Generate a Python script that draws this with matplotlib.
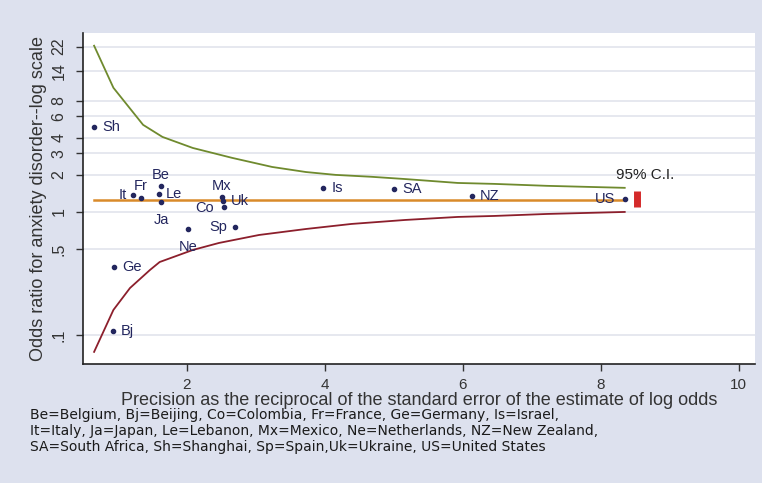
import matplotlib
matplotlib.use("Agg")
import matplotlib.pyplot as plt

plt.rcParams['font.family'] = ['Liberation Sans', 'DejaVu Sans']

# countries: code, precision (1/se), odds ratio
codes = ['Sh', 'It', 'Fr', 'Be', 'Le', 'Ja', 'Ne', 'Mx', 'Uk', 'Co', 'Sp',
         'Is', 'SA', 'NZ', 'US', 'Ge', 'Bj']
precision = [0.66, 1.22, 1.34, 1.63, 1.60, 1.63, 2.02, 2.51, 2.53, 2.54, 2.70,
             3.98, 5.01, 6.14, 8.35, 0.95, 0.93]
odds_ratio = [4.91, 1.37, 1.30, 1.63, 1.40, 1.21, 0.73, 1.32, 1.23, 1.10, 0.755,
              1.57, 1.54, 1.35, 1.28, 0.357, 0.108]

# funnel limits
upper_x = [0.66, 0.94, 1.37, 1.65, 2.09, 2.66, 3.24, 3.73, 4.16, 4.68, 5.17,
           5.93, 6.46, 7.22, 8.35]
upper_y = [22.4, 10.2, 5.1, 4.07, 3.31, 2.75, 2.32, 2.11, 2.0, 1.93, 1.85,
           1.72, 1.69, 1.63, 1.57]
lower_x = [0.66, 0.94, 1.18, 1.47, 1.61, 2.09, 2.47, 3.05, 3.73, 4.39, 5.17,
           5.93, 6.46, 7.22, 8.35]
lower_y = [0.073, 0.160, 0.241, 0.338, 0.392, 0.491, 0.560, 0.650, 0.727, 0.799,
           0.861, 0.911, 0.928, 0.963, 1.0]

pooled_or = 1.25
pooled_ci = [1.10, 1.48]
ci_x = 8.53

y_ticks = [0.1, 0.5, 1, 2, 3, 4, 6, 8, 14, 22]
y_labels = ['.1', '.5', '1', '2', '3', '4', '6', '8', '14', '22']
x_ticks = [2, 4, 6, 8, 10]

# label offsets in pixels (dx, dy, ha)
offsets = {
    'Sh': (8, 0, 'left'), 'It': (-6, 0, 'right'), 'Fr': (0, 12, 'center'),
    'Be': (0, 11, 'center'), 'Le': (7, 0, 'left'), 'Ja': (0, -18, 'center'),
    'Ne': (0, -18, 'center'), 'Mx': (0, 11, 'center'), 'Uk': (8, 0, 'left'),
    'Co': (-10, -1, 'right'), 'Sp': (-8, 0, 'right'), 'Is': (8, 0, 'left'),
    'SA': (8, 0, 'left'), 'NZ': (8, 0, 'left'), 'US': (-9, 0, 'right'),
    'Ge': (8, 0, 'left'), 'Bj': (8, 0, 'left'),
}

note_lines = [
    'Be=Belgium, Bj=Beijing, Co=Colombia, Fr=France, Ge=Germany, Is=Israel,',
    'It=Italy, Ja=Japan, Le=Lebanon, Mx=Mexico, Ne=Netherlands, NZ=New Zealand,',
    'SA=South Africa, Sh=Shanghai, Sp=Spain,Uk=Ukraine, US=United States',
]

bg = '#dde1ee'
navy = '#23265e'

fig = plt.figure(figsize=(7.62, 4.83), dpi=100, facecolor=bg)
ax = fig.add_axes([0.109, 0.246, 0.882, 0.686])
ax.set_facecolor('white')
ax.set_yscale('log')
ax.set_xlim(0.5, 10.24)
ax.set_ylim(0.058, 28.5)

for t in y_ticks:
    ax.axhline(t, color='#e2e4ec', lw=1.2, zorder=0)

ax.plot(upper_x, upper_y, color='#6f8a2e', lw=1.3, zorder=2)
ax.plot(lower_x, lower_y, color='#8c1f2c', lw=1.3, zorder=2)
ax.plot([min(precision), max(precision)], [pooled_or, pooled_or],
        color='#d98a2a', lw=1.8, zorder=2)
ax.plot([ci_x, ci_x], pooled_ci, color='#d42a2a', lw=5, solid_capstyle='butt', zorder=3)
ax.text(8.22, 2.0, '95% C.I.', fontsize=11, color='#222222', va='center', ha='left')

ax.plot(precision, odds_ratio, 'o', color=navy, ms=3, zorder=4)
for c, px, oy in zip(codes, precision, odds_ratio):
    dx, dy, ha = offsets[c]
    ax.annotate(c, (px, oy), xytext=(dx, dy), textcoords='offset pixels',
                ha=ha, va='center', fontsize=10.5, color=navy)

ax.set_yticks(y_ticks)
ax.set_yticklabels(y_labels, rotation=90, va='center')
ax.minorticks_off()
ax.set_xticks(x_ticks)
ax.tick_params(axis='both', direction='out', length=5, width=1, color='#333333',
               labelsize=11.5, labelcolor='#333333')
ax.tick_params(axis='x', pad=5, labelsize=11)
ax.tick_params(axis='y', pad=7)

for s in ['top', 'right']:
    ax.spines[s].set_visible(False)
for s in ['left', 'bottom']:
    ax.spines[s].set_color('#222222')
    ax.spines[s].set_linewidth(1.2)

ax.set_xlabel('Precision as the reciprocal of the standard error of the estimate of log odds',
              fontsize=13, color='#333333', labelpad=0)
ax.set_ylabel('Odds ratio for anxiety disorder--log scale', fontsize=13,
              color='#333333', labelpad=3)

for i, line in enumerate(note_lines):
    fig.text(30 / 762, 1 - (415 + 16 * i) / 483, line, fontsize=10,
             family='DejaVu Sans', color='#1a1a1a', va='center', ha='left')

fig.savefig('out.png', dpi=100, facecolor=bg)
